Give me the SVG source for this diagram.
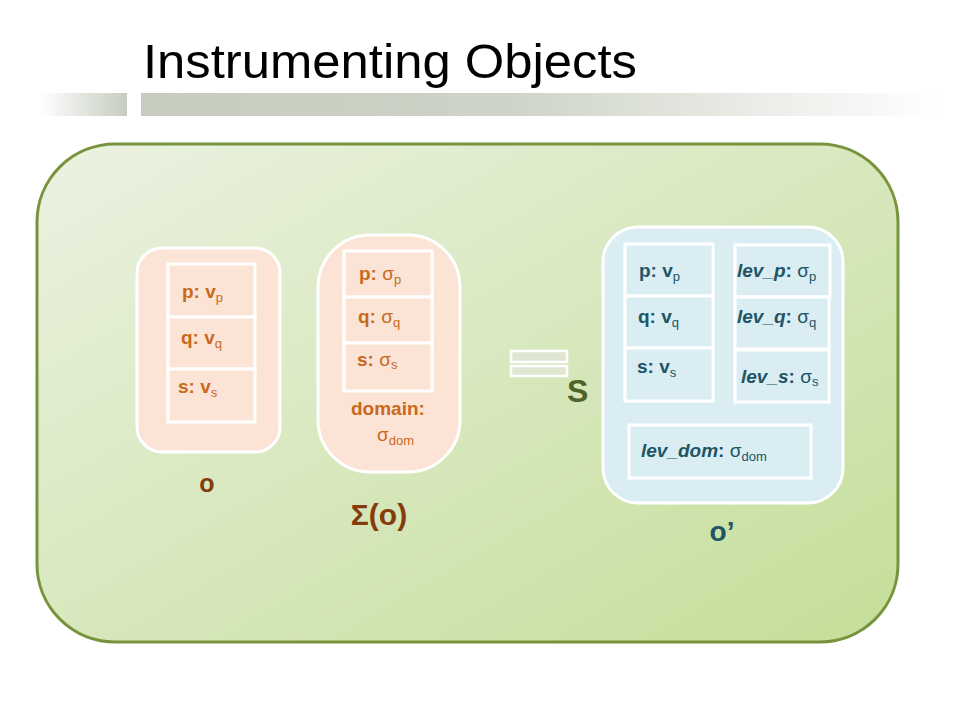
<svg xmlns="http://www.w3.org/2000/svg" width="960" height="720" viewBox="0 0 960 720">
<defs>
<linearGradient id="bg" x1="0" y1="0" x2="1" y2="1">
<stop offset="0" stop-color="#ebf2e2"/>
<stop offset="1" stop-color="#c4de99"/>
</linearGradient>
<linearGradient id="barL" x1="0" y1="0" x2="1" y2="0">
<stop offset="0" stop-color="#ffffff"/>
<stop offset="1" stop-color="#c6cdbf"/>
</linearGradient>
<linearGradient id="barR" x1="0" y1="0" x2="1" y2="0">
<stop offset="0" stop-color="#c6cdbf"/>
<stop offset="0.45" stop-color="#cdd3c6"/>
<stop offset="1" stop-color="#ffffff"/>
</linearGradient>
<style>
.or{font-family:"Liberation Sans",Arial,sans-serif;font-weight:bold;font-size:19px;fill:#c9691d}
.tl{font-family:"Liberation Sans",Arial,sans-serif;font-weight:bold;font-size:19px;fill:#205566}
.sub{font-size:13px;font-weight:normal}
.sg{font-weight:normal;font-size:19px}
.peach{fill:#fbe4d5;stroke:#ffffff;stroke-width:3}
.blue{fill:#daedf3;stroke:#ffffff;stroke-width:3}
.cellp{fill:#fbe4d5;stroke:#ffffff;stroke-width:3}
.cellb{fill:#daedf3;stroke:#ffffff;stroke-width:3}
.big{font-family:"Liberation Sans",Arial,sans-serif;font-weight:bold}
</style>
</defs>
<rect width="960" height="720" fill="#ffffff"/>
<g id="header">
<rect x="40" y="93" width="87" height="23" fill="url(#barL)"/>
<rect x="141" y="93" width="800" height="23" fill="url(#barR)"/>
<text x="143" y="78" font-family="'Liberation Sans',Arial,sans-serif" font-size="48" fill="#000000" textLength="494" lengthAdjust="spacingAndGlyphs">Instrumenting Objects</text>
</g>
<g id="container">
<rect x="37" y="144" width="861" height="498" rx="78" ry="78" fill="url(#bg)" stroke="#77933c" stroke-width="3"/>
</g>
<g id="node-o">
<rect class="peach" x="137" y="248" width="143" height="204" rx="25"/>
<rect class="cellp" x="168" y="264" width="87" height="53"/>
<rect class="cellp" x="168" y="317" width="87" height="52"/>
<rect class="cellp" x="168" y="369" width="87" height="53"/>
<text class="or" x="182" y="298">p: v<tspan class="sub" dy="4">p</tspan></text>
<text class="or" x="181" y="344">q: v<tspan class="sub" dy="4">q</tspan></text>
<text class="or" x="178" y="393">s: v<tspan class="sub" dy="4">s</tspan></text>
<text class="big" x="207" y="492" font-size="25" fill="#843c0c" text-anchor="middle">o</text>
</g>
<g id="node-sigma">
<rect class="peach" x="318" y="235" width="142" height="237" rx="52"/>
<rect class="cellp" x="344" y="251" width="88" height="46"/>
<rect class="cellp" x="344" y="297" width="88" height="46"/>
<rect class="cellp" x="344" y="343" width="88" height="48"/>
<text class="or" x="359" y="280">p: <tspan class="sg">σ</tspan><tspan class="sub" dy="4">p</tspan></text>
<text class="or" x="358" y="323">q: <tspan class="sg">σ</tspan><tspan class="sub" dy="4">q</tspan></text>
<text class="or" x="357" y="366">s: <tspan class="sg">σ</tspan><tspan class="sub" dy="3" font-size="11">s</tspan></text>
<text class="or" x="351" y="415">domain:</text>
<text class="or" x="377" y="441"><tspan class="sg">σ</tspan><tspan class="sub" dy="4">dom</tspan></text>
<text class="big" x="379" y="525" font-size="30" fill="#843c0c" text-anchor="middle">Σ(o)</text>
</g>
<g id="equals">
<rect x="511" y="351" width="56" height="11" fill="#dfe6d2" stroke="#ffffff" stroke-width="2.5"/>
<rect x="511" y="366" width="56" height="10" fill="#dfe6d2" stroke="#ffffff" stroke-width="2.5"/>
<text class="big" x="567" y="402" font-size="32" fill="#4f6228">S</text>
</g>
<g id="node-oprime">
<rect class="blue" x="603" y="227" width="240" height="276" rx="35"/>
<rect class="cellb" x="625" y="244" width="88" height="52"/>
<rect class="cellb" x="625" y="296" width="88" height="52"/>
<rect class="cellb" x="625" y="348" width="88" height="53"/>
<rect class="cellb" x="735" y="245" width="95" height="52"/>
<rect class="cellb" x="735" y="297" width="94" height="52"/>
<rect class="cellb" x="735" y="350" width="94" height="52"/>
<rect class="cellb" x="629" y="425" width="182" height="53"/>
<text class="tl" x="639" y="277">p: v<tspan class="sub" dy="4">p</tspan></text>
<text class="tl" x="638" y="323">q: v<tspan class="sub" dy="4">q</tspan></text>
<text class="tl" x="637" y="373">s: v<tspan class="sub" dy="4">s</tspan></text>
<text class="tl" x="737" y="277"><tspan font-style="italic">lev_p</tspan>: <tspan class="sg">σ</tspan><tspan class="sub" dy="4">p</tspan></text>
<text class="tl" x="737" y="323"><tspan font-style="italic">lev_q</tspan>: <tspan class="sg">σ</tspan><tspan class="sub" dy="4">q</tspan></text>
<text class="tl" x="741" y="383"><tspan font-style="italic">lev_s</tspan>: <tspan class="sg">σ</tspan><tspan class="sub" dy="3" font-size="11">s</tspan></text>
<text class="tl" x="641" y="457"><tspan font-style="italic">lev_dom</tspan>: <tspan class="sg">σ</tspan><tspan class="sub" dy="4">dom</tspan></text>
<text class="big" x="722" y="541" font-size="28" fill="#205566" text-anchor="middle">o’</text>
</g>
<g id="connectors"></g>
</svg>
